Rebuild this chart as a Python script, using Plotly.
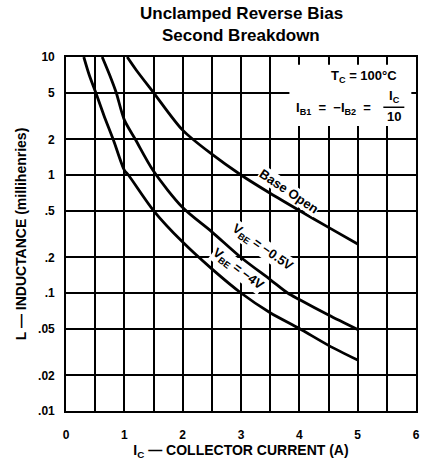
import math
import plotly.graph_objects as go

# Data
base_open_i = [1.05, 1.2, 1.5, 2.0, 2.5, 3.0, 3.5, 4.0, 4.5, 5.0]
base_open_l = [10, 7.8, 5.0, 2.4, 1.5, 1.0, 0.7, 0.5, 0.36, 0.26]

vbe05_i = [0.62, 0.75, 0.86, 1.0, 1.19, 1.5, 2.0, 2.5, 3.0, 3.5, 3.8, 4.0, 4.5, 5.0]
vbe05_l = [10, 7.0, 5.0, 2.93, 2.0, 1.08, 0.53, 0.33, 0.2, 0.13, 0.1, 0.088, 0.065, 0.049]

vbe4_i = [0.305, 0.4, 0.51, 0.65, 0.81, 1.0, 1.07, 1.5, 2.0, 2.5, 3.0, 3.5, 4.0, 4.5, 5.0]
vbe4_l = [10, 7.0, 5.0, 3.2, 2.0, 1.1, 1.0, 0.5, 0.27, 0.16, 0.1, 0.068, 0.05, 0.036, 0.027]

y_tickvals = [0.01, 0.02, 0.05, 0.1, 0.2, 0.5, 1, 2, 5, 10]
y_ticktext = [".01", ".02", ".05", ".1", ".2", ".5", "1", "2", "5", "10"]
x_tickvals = [0, 1, 2, 3, 4, 5, 6]

FONT = "Liberation Sans, Arial, sans-serif"
lg = math.log10

fig = go.Figure()
for xs, ys in [(base_open_i, base_open_l), (vbe05_i, vbe05_l), (vbe4_i, vbe4_l)]:
    fig.add_trace(go.Scatter(x=xs, y=ys, mode="lines",
                             line=dict(color="black", width=2.8, shape="spline", smoothing=0.8),
                             showlegend=False, hoverinfo="skip"))

fig.update_layout(
    width=429, height=466,
    margin=dict(l=66, r=9, t=57, b=55),
    paper_bgcolor="white", plot_bgcolor="white",
    font=dict(family=FONT, color="black", size=12),
)

# title (two lines)
fig.add_annotation(x=0.5, xref="paper", y=1 + (57 - 14) / 354, yref="paper", yanchor="middle",
                   text="Unclamped Reverse Bias", showarrow=False, font=dict(size=17, weight="bold"))
fig.add_annotation(x=0.5, xref="paper", y=1 + (57 - 36) / 354, yref="paper", yanchor="middle",
                   text="Second Breakdown", showarrow=False, font=dict(size=17, weight="bold"))

fig.update_xaxes(
    range=[0, 6], tickvals=x_tickvals, ticktext=[str(v) for v in x_tickvals],
    showgrid=True, gridcolor="black", gridwidth=1.6,
    minor=dict(dtick=0.5, showgrid=True, gridcolor="black", gridwidth=1.6),
    showline=True, linecolor="black", linewidth=1.6, mirror=True,
    ticks="", ticklabelstandoff=12, zeroline=False,
    tickfont=dict(size=12, weight="bold"),
    title=dict(text="I<sub>C</sub> — COLLECTOR CURRENT (A)", font=dict(size=14, weight="bold"), standoff=2),
)
fig.update_yaxes(
    type="log", range=[-2, 1], tickvals=y_tickvals, ticktext=y_ticktext,
    showgrid=True, gridcolor="black", gridwidth=1.6,
    showline=True, linecolor="black", linewidth=1.6, mirror=True,
    ticks="", ticklabelstandoff=7, zeroline=False,
    tickfont=dict(size=12, weight="bold"),
    title=dict(text="L — INDUCTANCE (millihenries)", font=dict(size=14, weight="bold"), standoff=8),
)

# white box behind conditions text
fig.add_shape(type="rect", xref="x", yref="y", x0=3.83, x1=5.92, y0=2.6, y1=8.6,
              fillcolor="white", line=dict(width=0), layer="above")

fig.add_annotation(x=5.1, y=0.835, xref="x", yref="y", xanchor="center", yanchor="middle",
                   text="T<sub>C</sub> = 100°C", showarrow=False, font=dict(size=13, weight="bold"))
fig.add_annotation(x=4.59, y=0.565, xref="x", yref="y", xanchor="center", yanchor="middle",
                   text="I<sub>B1</sub>  =  −I<sub>B2</sub>  =", showarrow=False, font=dict(size=13, weight="bold"))
fig.add_annotation(x=5.63, y=0.667, xref="x", yref="y", xanchor="center", yanchor="middle",
                   text="I<sub>C</sub>", showarrow=False, font=dict(size=13, weight="bold"))
fig.add_annotation(x=5.63, y=0.498, xref="x", yref="y", xanchor="center", yanchor="middle",
                   text="10", showarrow=False, font=dict(size=13, weight="bold"))
fig.add_shape(type="line", xref="x", yref="y", x0=5.44, x1=5.8, y0=3.75, y1=3.75,
              line=dict(color="black", width=1.5), layer="above")

# curve labels
fig.add_annotation(x=3.83, y=lg(0.73), xref="x", yref="y", text="Base Open", showarrow=False,
                   textangle=34, bgcolor="white", font=dict(size=13, weight="bold"), borderpad=0)
fig.add_annotation(x=3.36, y=lg(0.242), xref="x", yref="y", text="V<sub>BE</sub> = −0.5V", showarrow=False,
                   textangle=35, bgcolor="white", font=dict(size=13, weight="bold"), borderpad=0)
fig.add_annotation(x=2.95, y=lg(0.158), xref="x", yref="y", text="V<sub>BE</sub> = −4V", showarrow=False,
                   textangle=37, bgcolor="white", font=dict(size=13, weight="bold"), borderpad=0)

fig.write_html("out.html")
